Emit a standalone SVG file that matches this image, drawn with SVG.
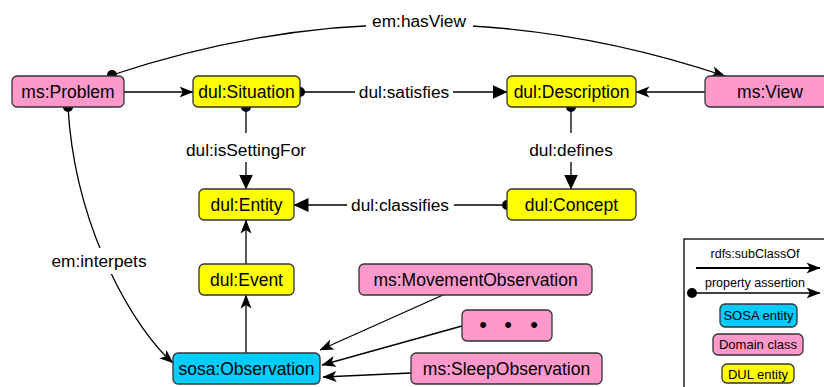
<svg xmlns="http://www.w3.org/2000/svg" width="824" height="387" viewBox="0 0 824 387">
<style>
.node rect{stroke:#333;stroke-width:1.3}
.pink{fill:#FF99CC}
.yellow{fill:#FFFF00}
.cyan{fill:#00CCFF}
.nt{font-family:"Liberation Sans",Arial,sans-serif;font-size:17.5px;fill:#000;text-anchor:middle}
.el{font-family:"Liberation Sans",Arial,sans-serif;font-size:17.3px;fill:#000;text-anchor:middle}
.lt{font-family:"Liberation Sans",Arial,sans-serif;font-size:12.5px;fill:#000;text-anchor:middle}
.lb{font-family:"Liberation Sans",Arial,sans-serif;font-size:13px;fill:#000;text-anchor:middle}
.e{fill:none;stroke:#000;stroke-width:1.3}
.sc{marker-end:url(#classic)}
.pa{marker-end:url(#block)}
.dot{fill:#000}
</style>
<defs>
<marker id="classic" markerUnits="userSpaceOnUse" markerWidth="14" markerHeight="12" viewBox="0 0 14 12" refX="13.5" refY="6" orient="auto"><path d="M0,0.5 L14,6 L0,11.5 L3.5,6 Z" fill="#000"/></marker>
<marker id="block" markerUnits="userSpaceOnUse" markerWidth="15" markerHeight="14" viewBox="0 0 15 14" refX="14.5" refY="7" orient="auto"><path d="M0,0 L15,7 L0,14 Z" fill="#000"/></marker>
</defs>
<rect width="824" height="387" fill="#fff"/>

<g id="connectors">
  <!-- em:hasView -->
  <path class="e sc" d="M112,75 Q418,-27 725,76"/>
  <rect x="366" y="9" width="107" height="24" fill="#fff"/>
  <text class="el" x="419" y="27">em:hasView</text>
  <circle class="dot" cx="112" cy="75" r="5"/>

  <!-- Problem -> Situation -->
  <line class="e sc" x1="124" y1="92" x2="193" y2="92"/>

  <!-- Situation -> Description -->
  <line class="e" x1="300" y1="92" x2="355" y2="92"/>
  <line class="e pa" x1="453" y1="92" x2="507" y2="92"/>
  <text class="el" x="404" y="98">dul:satisfies</text>
  <circle class="dot" cx="300" cy="92" r="5"/>

  <!-- View -> Description -->
  <line class="e sc" x1="705" y1="92" x2="636" y2="92"/>

  <!-- Situation -> Entity -->
  <line class="e" x1="246" y1="107" x2="246" y2="133"/>
  <line class="e pa" x1="246" y1="162" x2="246" y2="189"/>
  <text class="el" x="246" y="156">dul:isSettingFor</text>
  <circle class="dot" cx="246" cy="107" r="5"/>

  <!-- Description -> Concept -->
  <line class="e" x1="571" y1="107" x2="571" y2="133"/>
  <line class="e pa" x1="571" y1="162" x2="571" y2="189"/>
  <text class="el" x="571" y="156">dul:defines</text>
  <circle class="dot" cx="571" cy="107" r="5"/>

  <!-- Concept -> Entity -->
  <line class="e" x1="507" y1="205" x2="454" y2="205"/>
  <line class="e pa" x1="347" y1="205" x2="294" y2="205"/>
  <text class="el" x="400" y="211">dul:classifies</text>
  <circle class="dot" cx="507" cy="205" r="5"/>

  <!-- Event -> Entity -->
  <line class="e sc" x1="246" y1="264" x2="246" y2="220"/>
  <!-- Observation -> Event -->
  <line class="e sc" x1="246" y1="353" x2="246" y2="295"/>

  <!-- em:interpets -->
  <path class="e sc" d="M68,107 C75,230 135,330 173,363"/>
  <rect x="47" y="248" width="104" height="26" fill="#fff"/>
  <text class="el" x="99" y="267">em:interpets</text>
  <circle class="dot" cx="68" cy="107" r="5"/>

  <!-- subclasses -> Observation -->
  <line class="e sc" x1="443" y1="295" x2="320" y2="350"/>
  <line class="e sc" x1="462" y1="326" x2="322" y2="365"/>
  <line class="e sc" x1="411" y1="373" x2="323" y2="377"/>
</g>

<g id="n-problem" class="node"><rect class="pink" x="12" y="76" width="112" height="31" rx="5"/><text class="nt" x="68" y="98">ms:Problem</text></g>
<g id="n-situation" class="node"><rect class="yellow" x="193" y="76" width="107" height="31" rx="5"/><text class="nt" x="246.5" y="98">dul:Situation</text></g>
<g id="n-description" class="node"><rect class="yellow" x="507" y="76" width="129" height="31" rx="5"/><text class="nt" x="571.5" y="98">dul:Description</text></g>
<g id="n-view" class="node"><rect class="pink" x="705" y="76" width="130" height="31" rx="5"/><text class="nt" x="770" y="98">ms:View</text></g>
<g id="n-entity" class="node"><rect class="yellow" x="199" y="189" width="95" height="31" rx="5"/><text class="nt" x="246.5" y="211">dul:Entity</text></g>
<g id="n-concept" class="node"><rect class="yellow" x="507" y="189" width="129" height="31" rx="5"/><text class="nt" x="571.5" y="211">dul:Concept</text></g>
<g id="n-event" class="node"><rect class="yellow" x="199" y="264" width="95" height="31" rx="5"/><text class="nt" x="246.5" y="286">dul:Event</text></g>
<g id="n-movement" class="node"><rect class="pink" x="359" y="264" width="233" height="31" rx="5"/><text class="nt" x="475.5" y="286">ms:MovementObservation</text></g>
<g id="n-more" class="node"><rect class="pink" x="462" y="310" width="90" height="31" rx="5"/><text class="nt" x="483 508 534" y="332" style="font-size:22px">•••</text></g>
<g id="n-observation" class="node"><rect class="cyan" x="173" y="353" width="147" height="31" rx="5"/><text class="nt" x="246.5" y="375">sosa:Observation</text></g>
<g id="n-sleep" class="node"><rect class="pink" x="411" y="353" width="191" height="31" rx="5"/><text class="nt" x="506.5" y="375">ms:SleepObservation</text></g>

<g id="legend">
  <rect x="684" y="239" width="160" height="170" fill="#fff" stroke="#000" stroke-width="1.3"/>
  <text class="lt" x="755" y="258">rdfs:subClassOf</text>
  <line class="e sc" x1="696" y1="268" x2="820" y2="268" style="stroke-width:2"/>
  <text class="lt" x="755" y="287">property assertion</text>
  <line class="e sc" x1="692" y1="293" x2="820" y2="293" style="stroke-width:1.6"/>
  <circle class="dot" cx="692" cy="293" r="5"/>
  <g class="node"><rect class="cyan" x="720" y="304" width="77" height="23" rx="5"/><text class="lb" x="758.5" y="320">SOSA entity</text></g>
  <g class="node"><rect class="pink" x="713" y="334" width="90" height="21" rx="5"/><text class="lb" x="758" y="349">Domain class</text></g>
  <g class="node"><rect class="yellow" x="722" y="364" width="72" height="19" rx="5"/><text class="lb" x="758" y="378.5">DUL entity</text></g>
</g>
</svg>
